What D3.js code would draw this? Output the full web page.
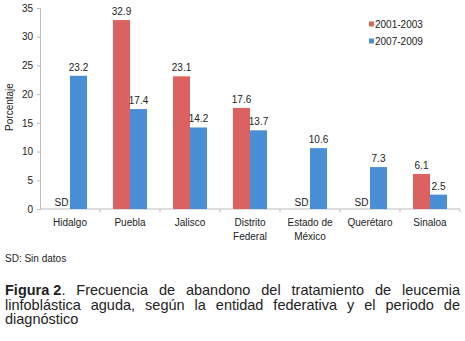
<!DOCTYPE html>
<html>
<head>
<meta charset="utf-8">
<script src="https://cdn.jsdelivr.net/npm/d3@7"></script>
<style>
  body { margin: 0; background: #fff; }
  svg { display: block; font-family: "Liberation Sans", Arial, sans-serif; }
</style>
</head>
<body>
<div id="chart"></div>
<script>
// data
const categories = ["Hidalgo", "Puebla", "Jalisco", "Distrito Federal", "Estado de México", "Querétaro", "Sinaloa"];
const categoryLines = [["Hidalgo"], ["Puebla"], ["Jalisco"], ["Distrito", "Federal"], ["Estado de", "México"], ["Querétaro"], ["Sinaloa"]];
const series = ["2001-2003", "2007-2009"];
const values2001 = [null, 32.9, 23.1, 17.6, null, null, 6.1];
const values2007 = [23.2, 17.4, 14.2, 13.7, 10.6, 7.3, 2.5];
const yTicks = [0, 5, 10, 15, 20, 25, 30, 35];
const captionLines = [
    "Frecuencia de abandono del tratamiento de leucemia",
    "linfoblástica aguda, según la entidad federativa y el periodo de",
    "diagnóstico"
];

const width = 465, height = 341;
const colors = {"2001-2003": "#dc6261", "2007-2009": "#4a8fd5"};

const svg = d3.select("#chart").append("svg")
    .attr("width", width)
    .attr("height", height);

const x0 = d3.scaleBand()
    .domain(categories)
    .range([40, 460]);

const x1 = d3.scaleBand()
    .domain(series)
    .range([13, 47]);

const y = d3.scaleLinear()
    .domain([0, 35])
    .range([209, 8]);

// y axis
const yAxis = svg.append("g")
    .attr("transform", "translate(40,0)")
    .call(d3.axisLeft(y).tickValues(yTicks).tickSize(3).tickPadding(4));
yAxis.select(".domain").attr("stroke", "#bdbdbd");
yAxis.selectAll(".tick line").attr("stroke", "#bdbdbd");
yAxis.selectAll("text").attr("font-size", 10).attr("fill", "#222")
    .attr("font-family", "Liberation Sans, Arial, sans-serif");

svg.append("text")
    .attr("transform", "translate(13,107) rotate(-90)")
    .attr("text-anchor", "middle")
    .attr("font-size", 10)
    .attr("fill", "#222")
    .text("Porcentaje");

// x axis
svg.append("line")
    .attr("x1", 40).attr("x2", 460)
    .attr("y1", y(0)).attr("y2", y(0))
    .attr("stroke", "#bdbdbd");

svg.selectAll(".xtick")
    .data(categories)
    .enter()
    .append("line")
    .attr("x1", d => x0(d) + x0.bandwidth())
    .attr("x2", d => x0(d) + x0.bandwidth())
    .attr("y1", y(0))
    .attr("y2", y(0) + 3)
    .attr("stroke", "#bdbdbd");

const catLabel = svg.selectAll(".cat")
    .data(categories)
    .enter()
    .append("text")
    .attr("text-anchor", "middle")
    .attr("font-size", 10)
    .attr("fill", "#222");

catLabel.each(function(d, i) {
    d3.select(this).selectAll("tspan")
        .data(categoryLines[i])
        .enter()
        .append("tspan")
        .attr("x", x0(d) + x0.bandwidth() / 2)
        .attr("y", (t, j) => 226 + j * 14)
        .text(t => t);
});

// bars
const rows = categories.map((c, i) => ({
    cat: c,
    vals: [
        {s: series[0], v: values2001[i]},
        {s: series[1], v: values2007[i]}
    ]
}));

const group = svg.selectAll(".grp")
    .data(rows)
    .enter()
    .append("g")
    .attr("transform", d => `translate(${x0(d.cat)},0)`);

group.selectAll("rect")
    .data(d => d.vals.filter(e => e.v !== null))
    .enter()
    .append("rect")
    .attr("x", d => x1(d.s))
    .attr("y", d => y(d.v))
    .attr("width", x1.bandwidth())
    .attr("height", d => y(0) - y(d.v))
    .attr("fill", d => colors[d.s]);

group.selectAll(".val")
    .data(d => d.vals)
    .enter()
    .append("text")
    .attr("x", d => x1(d.s) + x1.bandwidth() / 2)
    .attr("y", d => d.v === null ? y(0) - 3 : y(d.v) - 5)
    .attr("text-anchor", "middle")
    .attr("font-size", 10)
    .attr("fill", "#222")
    .text(d => d.v === null ? "SD" : d.v.toFixed(1));

// legend
const legend = svg.selectAll(".leg")
    .data(series)
    .enter()
    .append("g")
    .attr("transform", (d, i) => `translate(369,${24 + i * 17})`);

legend.append("rect")
    .attr("x", 0).attr("y", -2.5)
    .attr("width", 5).attr("height", 5)
    .attr("fill", d => colors[d]);

legend.append("text")
    .attr("x", 6).attr("y", 3.5)
    .attr("font-size", 10)
    .attr("fill", "#222")
    .text(d => d);

// footnote
svg.append("text")
    .attr("x", 5).attr("y", 262)
    .attr("font-size", 10)
    .attr("fill", "#222")
    .text("SD: Sin datos");

// caption, justified by hand
const capX = 5, capRight = 460, capSize = 14.5;
captionLines.forEach((line, li) => {
    const words = line.split(" ");
    if (li === 0) {
        words.unshift("Figura 2.");
    }
    const baseY = 295 + li * 14.5;
    const items = words.map((w, wi) => {
        const t = svg.append("text")
            .attr("y", baseY)
            .attr("font-size", capSize)
            .attr("fill", "#222");
        if (li === 0 && wi === 0) {
            t.append("tspan").attr("font-weight", "bold").text("Figura 2");
            t.append("tspan").text(".");
        } else {
            t.text(w);
        }
        return {node: t, w: t.node().getComputedTextLength()};
    });
    const total = d3.sum(items, d => d.w);
    const last = li === captionLines.length - 1;
    const spaceW = 4;
    const gap = last ? spaceW : (capRight - capX - total) / (items.length - 1);
    let cx = capX;
    items.forEach(it => {
        it.node.attr("x", cx);
        cx += it.w + gap;
    });
});
</script>
</body>
</html>
